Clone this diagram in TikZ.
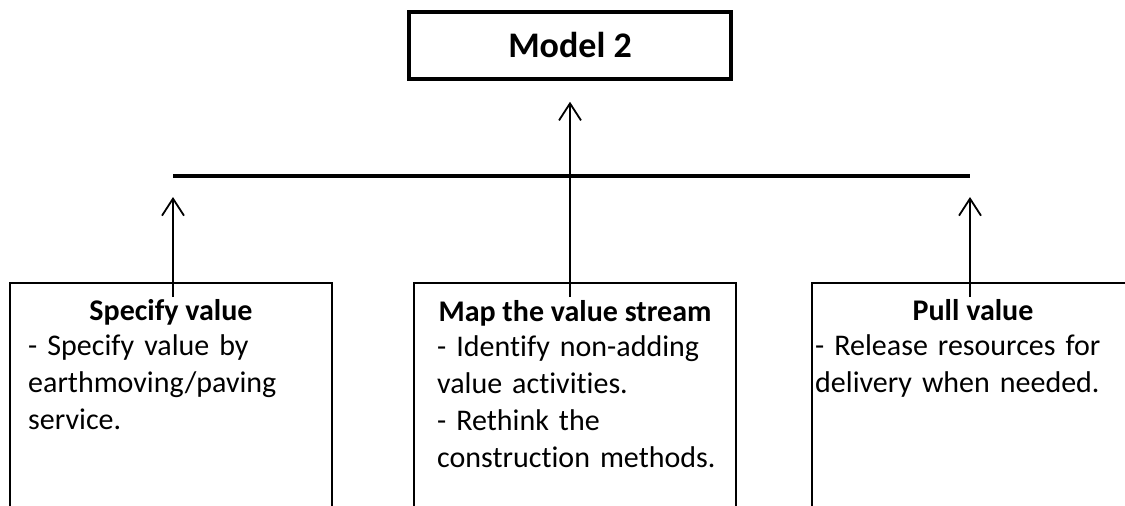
\documentclass[tikz,border=0pt]{standalone}
\usepackage{fontspec}
\setmainfont{Carlito}[Ligatures=NoCommon]
\usetikzlibrary{arrows.meta,positioning}

\begin{document}
\begin{tikzpicture}[
    x=1pt, y=-1pt,
    modelbox/.style={rectangle, draw, line width=3.5pt, minimum width=322pt, minimum height=67pt, font=\fontsize{36}{43}\selectfont\bfseries},
    valuebox/.style={rectangle, draw, line width=1.8pt, anchor=north, minimum width=322pt, minimum height=260pt},
    boxtitle/.style={font=\fontsize{30}{36}\selectfont\bfseries, inner sep=0pt, anchor=base},
    boxtext/.style={font=\fontsize{30}{37}\selectfont, text width=310pt, align=left, inner sep=0pt, anchor=base west},
    bar/.style={line width=3.5pt},
    line/.style={draw, -{Straight Barb[length=17pt, width=22pt]}, line width=1.8pt, shorten >=21pt}
]
    \useasboundingbox (0,0) rectangle (1125,506);
    \clip (0,0) rectangle (1125,506);

    \node [modelbox] (model) at (570,45.5) {Model 2};

    \node [valuebox] (spec) at (171,282) {};
    \node [valuebox] (map) at (575,282) {};
    \node [valuebox] (pull) at (973,282) {};

    \node [boxtitle] (spectitle) at (171,320) {Specify value};
    \node [boxtitle] (maptitle) at (575,321) {Map the value stream};
    \node [boxtitle] (pulltitle) at (973,320) {Pull value};

    \node [boxtext] (spectext) at (28,355) {- Specify value by\\earthmoving/paving\\service.};
    \node [boxtext] (maptext) at (437,356) {- Identify non-adding\\value activities.\\- Rethink the\\construction methods.};
    \node [boxtext] (pulltext) at (815,355) {- Release resources for\\delivery when needed.};

    % horizontal bar
    \coordinate (barl) at (173,176);
    \coordinate (barr) at (970,176);
    \draw [bar] (barl) -- (barr);

    \path [line] ([yshift=-15pt]barl |- spec.north) -- (barl);
    \path [line] ([yshift=-15pt]barr |- pull.north) -- (barr);
    \path [line] ([yshift=-15pt]model.south |- map.north) -- (model.south);
\end{tikzpicture}
\end{document}
